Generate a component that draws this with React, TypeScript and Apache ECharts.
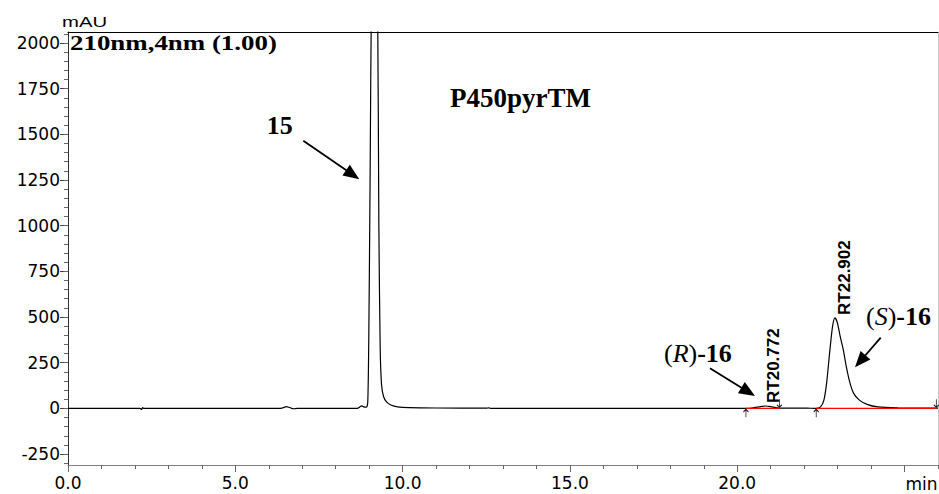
import React, { useEffect, useRef } from "react";
import * as echarts from "echarts";

// ---- chromatogram trace (retention time, min / signal, mAU) ----
const traceTime = [
  0.0, 2.15, 2.2, 2.23, 2.27, 6.3, 6.42, 6.52, 6.6, 6.68, 6.74, 6.85,
  8.65, 8.72, 8.78, 8.84, 8.92, 8.96, 8.99, 9.03, 9.07, 9.16, 9.25, 9.29,
  9.33, 9.37, 9.43, 9.52, 9.65, 9.85, 10.2, 11.0, 12.5, 12.58, 12.62, 16.0,
  20.3, 20.5, 20.7, 20.85, 21.0, 21.15, 21.3, 21.8, 22.1, 22.35, 22.49, 22.59,
  22.67, 22.77, 22.85, 22.92, 22.99, 23.07, 23.17, 23.26, 23.36, 23.48, 23.65,
  23.88, 24.2, 24.8, 26.0,
];
const traceSignal = [
  0, 0, -6, 4, 0, 0, 3, 9, 6, 0, -2, 0,
  0, 8, 14, 8, 6, 40, 400, 1300, 2300, 3300, 2300, 1000,
  330, 130, 65, 35, 18, 8, 4, 2, 1, 3, 0, 0,
  0, 4, 10, 13, 10, 4, 1, 2, 1, 0, 8, 45,
  137, 320, 450, 495, 470, 400, 320, 228, 145, 82, 45,
  22, 8, 3, 1,
];

// integrated peaks
const peakTimes = [20.772, 22.902];
const peakHeights = [13, 495];
const baselineStarts = [20.26, 22.36];
const baselineEnds = [21.26, 25.95];

// axes
const xMajorTicks = [0, 5, 10, 15, 20, 25];
const xTickLabels = [0, 5, 10, 15, 20];
const yMajorTicks = [-250, 0, 250, 500, 750, 1000, 1250, 1500, 1750, 2000];
const yTickLabels = [-250, 0, 250, 500, 750, 1000, 1250, 1500, 1750, 2000];
const xMinorTicks = Array.from({ length: 27 }, (_, i) => i);
const yMinorTicks = Array.from({ length: 48 }, (_, i) => -300 + i * 50);

const X_MIN = 0;
const X_MAX = 26;
const Y_MIN = -310;
const Y_MAX = 2060;

const AXIS_FONT = "DejaVu Sans";
const SERIF = "Liberation Serif";

function arrow(x1: number, y1: number, x2: number, y2: number, head = 16, half = 6.5) {
  const dx = x2 - x1;
  const dy = y2 - y1;
  const L = Math.hypot(dx, dy);
  const ux = dx / L;
  const uy = dy / L;
  const bx = x2 - ux * head;
  const by = y2 - uy * head;
  return [
    {
      type: "line",
      shape: { x1, y1, x2: bx + ux * 2, y2: by + uy * 2 },
      style: { stroke: "#000", lineWidth: 1.8 },
    },
    {
      type: "polygon",
      shape: {
        points: [
          [x2, y2],
          [bx - uy * half, by + ux * half],
          [bx + uy * half, by - ux * half],
        ],
      },
      style: { fill: "#000" },
    },
  ];
}

function txt(x: number, y: number, text: string, style: any, extra: any = {}) {
  return {
    type: "text",
    x,
    y,
    ...extra,
    style: {
      text,
      fill: "#000",
      align: "left",
      verticalAlign: "middle",
      textAlign: "left",
      textVerticalAlign: "middle",
      ...style,
    },
  };
}

export default function App() {
  const ref = useRef<HTMLDivElement>(null);

  useEffect(() => {
    document.body.style.margin = "0";
    if (!ref.current) return;
    const chart = echarts.init(ref.current, undefined, { renderer: "svg" });

    const frameAxis = (color: string) => ({
      axisLine: { show: true, onZero: false, lineStyle: { color, width: 1 } },
      axisTick: { show: false },
      axisLabel: { show: false },
      splitLine: { show: false },
    });

    const richStyle = {
      n: { fontFamily: SERIF, fontSize: 26, fill: "#000", color: "#000" },
      i: { fontFamily: SERIF, fontSize: 26, fontStyle: "italic", fill: "#000", color: "#000" },
      b: { fontFamily: SERIF, fontSize: 26, fontWeight: "bold", fill: "#000", color: "#000" },
    };

    const option: any = {
      animation: false,
      backgroundColor: "#ffffff",
      grid: { left: 68, right: 1, top: 32, bottom: 29, containLabel: false, outerBoundsMode: "none" },
      xAxis: [
        {
          type: "value",
          min: X_MIN,
          max: X_MAX,
          position: "bottom",
          axisLine: { show: true, onZero: false, lineStyle: { color: "#808080", width: 1 } },
          axisTick: {
            show: true,
            customValues: xMajorTicks,
            length: 7,
            lineStyle: { color: "#666", width: 1 },
          },
          axisLabel: {
            show: true,
            customValues: xTickLabels,
            formatter: (v: number) => v.toFixed(1),
            margin: 9,
            color: "#000",
            fontFamily: AXIS_FONT,
            fontSize: 17,
          },
          splitLine: { show: false },
        },
        {
          type: "value",
          min: X_MIN,
          max: X_MAX,
          position: "bottom",
          axisLine: { show: false, onZero: false },
          axisTick: { show: true, customValues: xMinorTicks, length: 4, lineStyle: { color: "#666", width: 1 } },
          axisLabel: { show: false },
          splitLine: { show: false },
        },
        { type: "value", min: X_MIN, max: X_MAX, position: "top", ...frameAxis("#000") },
      ],
      yAxis: [
        {
          type: "value",
          min: Y_MIN,
          max: Y_MAX,
          position: "left",
          axisLine: { show: true, onZero: false, lineStyle: { color: "#333", width: 1 } },
          axisTick: {
            show: true,
            customValues: yMajorTicks,
            length: 8,
            lineStyle: { color: "#444", width: 1 },
          },
          axisLabel: {
            show: true,
            customValues: yTickLabels,
            formatter: (v: number) => String(v),
            margin: 8,
            color: "#000",
            fontFamily: AXIS_FONT,
            fontSize: 17,
          },
          splitLine: { show: false },
        },
        {
          type: "value",
          min: Y_MIN,
          max: Y_MAX,
          position: "left",
          axisLine: { show: false, onZero: false },
          axisTick: { show: true, customValues: yMinorTicks, length: 4, lineStyle: { color: "#666", width: 1 } },
          axisLabel: { show: false },
          splitLine: { show: false },
        },
        { type: "value", min: Y_MIN, max: Y_MAX, position: "right", ...frameAxis("#c8c8c8") },
      ],
      series: [
        {
          type: "line",
          xAxisIndex: 0,
          yAxisIndex: 0,
          data: traceTime.map((t, i) => [t, traceSignal[i]]),
          symbol: "none",
          showSymbol: false,
          smooth: 0.25,
          clip: true,
          lineStyle: { color: "#000", width: 1.2 },
          z: 2,
          silent: true,
        },
        ...baselineStarts.map((s, i) => ({
          type: "line",
          xAxisIndex: 0,
          yAxisIndex: 0,
          data: [
            [s, 0],
            [baselineEnds[i], 0],
          ],
          symbol: "none",
          lineStyle: { color: "#ff0000", width: 1.4 },
          z: 3,
          silent: true,
        })),
        {
          type: "scatter",
          xAxisIndex: 0,
          yAxisIndex: 0,
          data: baselineStarts.map((s) => [s, 0]),
          symbol: "path://M4 0L4 16M0 5L4 0L8 5",
          symbolSize: [5, 8],
          symbolOffset: [0, 5],
          itemStyle: { color: "none", borderColor: "#222", borderWidth: 1, opacity: 1 },
          z: 4,
          silent: true,
        },
        {
          type: "scatter",
          xAxisIndex: 0,
          yAxisIndex: 0,
          data: baselineEnds.map((e) => [e, 0]),
          symbol: "path://M4 0L4 16M0 11L4 16L8 11",
          symbolSize: [5, 8],
          symbolOffset: [0, -5],
          itemStyle: { color: "none", borderColor: "#222", borderWidth: 1, opacity: 1 },
          z: 4,
          silent: true,
        },
        {
          type: "scatter",
          xAxisIndex: 0,
          yAxisIndex: 0,
          data: peakTimes.map((t, i) => [t, peakHeights[i]]),
          symbolSize: 0,
          itemStyle: { opacity: 1, color: "#000" },
          label: {
            show: true,
            formatter: (p: any) => "RT" + p.value[0].toFixed(3),
            position: [10, -3],
            rotate: 90,
            align: "left",
            verticalAlign: "middle",
            fontFamily: "Liberation Sans",
            fontWeight: "bold",
            fontSize: 17,
            color: "#000",
            opacity: 1,
          },
          z: 5,
          silent: true,
        },
      ],
      graphic: [
        txt(62, 22, "mAU", { fontFamily: "Liberation Sans", fontSize: 14 }, { scaleX: 1.45 }),
        txt(70, 43.5, "210nm,4nm (1.00)", { fontFamily: SERIF, fontSize: 20, fontWeight: "bold" }, { scaleX: 1.345 }),
        txt(450, 97.5, "P450pyrTM", { fontFamily: SERIF, fontSize: 27, fontWeight: "bold" }),
        txt(279.7, 125, "15", { fontFamily: SERIF, fontSize: 26, fontWeight: "bold", align: "center", textAlign: "center" }),
        {
          type: "text",
          x: 664,
          y: 353.5,
          style: {
            text: "{n|(}{i|R}{n|)}{b|-16}",
            align: "left",
            verticalAlign: "middle",
            textAlign: "left",
            textVerticalAlign: "middle",
            rich: richStyle,
          },
        },
        {
          type: "text",
          x: 866,
          y: 316,
          style: {
            text: "{n|(}{i|S}{n|)}{b|-16}",
            align: "left",
            verticalAlign: "middle",
            textAlign: "left",
            textVerticalAlign: "middle",
            rich: richStyle,
          },
        },
        txt(937.5, 475, "min", {
          fontFamily: AXIS_FONT,
          fontSize: 17,
          align: "right",
          textAlign: "right",
          verticalAlign: "top",
          textVerticalAlign: "top",
        }),
        ...arrow(303.3, 140.7, 359.3, 179.3),
        ...arrow(710, 368.3, 755, 396),
        ...arrow(880.7, 337.7, 855, 367.3),
      ],
    };

    chart.setOption(option);
    return () => chart.dispose();
  }, []);

  return <div ref={ref} style={{ width: 939, height: 494 }} />;
}
